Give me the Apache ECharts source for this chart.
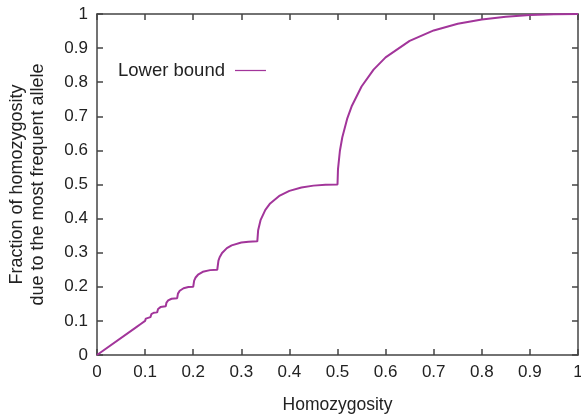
<!DOCTYPE html>
<html>
<head>
<meta charset="utf-8">
<script src="https://cdn.jsdelivr.net/npm/echarts@6/dist/echarts.min.js"></script>
<style>
html,body{margin:0;padding:0;background:#fff;}
#chart{width:581px;height:416px;}
</style>
</head>
<body>
<div id="chart"></div>
<script>
// homozygosity (x) and lower-bound fraction (y)
var homozygosity = [
	0, 0.0833, 0.0845, 0.0909, 0.092, 0.1, 0.1015, 0.105, 0.1111,
	0.113, 0.118, 0.125, 0.127, 0.132, 0.1429,
	0.1445, 0.148, 0.155, 0.1667,
	0.1683, 0.172, 0.18, 0.19, 0.2,
	0.202, 0.205, 0.21, 0.22, 0.235, 0.25,
	0.2525, 0.255, 0.26, 0.27, 0.28, 0.3, 0.315, 0.3333,
	0.335, 0.34, 0.35, 0.36, 0.38, 0.4, 0.425, 0.45, 0.475, 0.5,
	0.501, 0.505, 0.51, 0.52, 0.53, 0.55, 0.575, 0.6, 0.65, 0.7,
	0.75, 0.8, 0.85, 0.9, 0.95, 1
];
var lowerBound = [
	0, 0.0833, 0.0882, 0.0909, 0.0962, 0.1, 0.1067, 0.11, 0.1111,
	0.1196, 0.1239, 0.125, 0.1351, 0.1405, 0.1429,
	0.1539, 0.1601, 0.165, 0.1667,
	0.18, 0.1884, 0.1958, 0.1992, 0.2,
	0.2183, 0.2272, 0.2354, 0.2439, 0.2489, 0.25,
	0.2769, 0.2867, 0.2991, 0.3133, 0.3214, 0.3298, 0.3324, 0.3333,
	0.3657, 0.3954, 0.4258, 0.4444, 0.4676, 0.4812, 0.4913, 0.4967, 0.4993, 0.5,
	0.5446, 0.599, 0.6386, 0.6923, 0.7311, 0.7875, 0.8368, 0.8727, 0.9213, 0.9518,
	0.9714, 0.9841, 0.9922, 0.9969, 0.9993, 1
];

var points = homozygosity.map(function(h, i){ return [h, lowerBound[i]]; });

var chart = echarts.init(document.getElementById('chart'));
var axisCol = '#444';
var textCol = '#222';
var font = 'Liberation Sans, Arial, sans-serif';

function tickLabel(v){
	return v === 0 ? '0' : (v === 1 ? '1' : v.toFixed(1));
}

// shared look of the four frame axes
function frameAxis(pos, extra){
	var ax = {
		type:'value',
		gridIndex:0,
		position:pos,
		min:0,
		max:1,
		interval:0.1,
		axisLine:{ show:true, onZero:false, lineStyle:{ color:axisCol, width:1.5 } },
		axisTick:{ show:true, inside:true, length:6, lineStyle:{ color:axisCol, width:1.5 } },
		axisLabel:{ show:false },
		splitLine:{ show:false }
	};
	for (var k in extra) ax[k] = extra[k];
	return ax;
}

var option = {
	animation:false,
	grid:{
		left:97,
		right:3,
		top:14,
		bottom:61,
		outerBoundsMode:'none'
	},
	legend:{
		left:113,
		top:56,
		align:'right',
		itemWidth:31,
		itemHeight:10,
		itemGap:0,
		textStyle:{
			color:textCol,
			fontSize:18.5,
			fontFamily:font,
			padding:[0,5,0,0]
		},
		data:[{
			name:'Lower bound',
			icon:'path://M0,5 L30,5 L30,6.2 L0,6.2 Z'
		}]
	},
	xAxis:[
		frameAxis('bottom', {
			name:'Homozygosity',
			nameLocation:'middle',
			nameGap:41,
			nameTextStyle:{ color:textCol, fontSize:17.5, fontFamily:font },
			axisLabel:{ show:true, color:textCol, fontSize:17, fontFamily:font, margin:9, formatter:tickLabel }
		}),
		frameAxis('top', {})
	],
	yAxis:[
		frameAxis('left', {
			name:'Fraction of homozygosity\ndue to the most frequent allele',
			nameLocation:'middle',
			nameGap:48,
			nameTextStyle:{ color:textCol, fontSize:18, fontFamily:font, lineHeight:21 },
			axisLabel:{ show:true, color:textCol, fontSize:17, fontFamily:font, margin:9, formatter:tickLabel }
		}),
		frameAxis('right', {})
	],
	series:[{
		name:'Lower bound',
		type:'line',
		xAxisIndex:0,
		yAxisIndex:0,
		showSymbol:false,
		smooth:false,
		lineStyle:{ color:'#a2359a', width:2 },
		itemStyle:{ color:'#a2359a' },
		data:points
	}]
};
chart.setOption(option);
</script>
</body>
</html>
